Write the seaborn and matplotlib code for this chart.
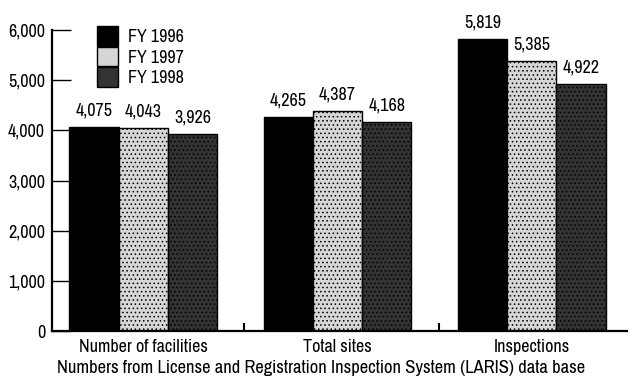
import matplotlib
matplotlib.use("Agg")
import matplotlib.pyplot as plt
from matplotlib.ticker import FixedLocator, FuncFormatter
import seaborn as sns
import pandas as pd

categories = ["Number of facilities", "Total sites", "Inspections"]
years = ["FY 1996", "FY 1997", "FY 1998"]
fy1996 = [4075, 4265, 5819]
fy1997 = [4043, 4387, 5385]
fy1998 = [3926, 4168, 4922]

colors = ["#000000", "#d6d6d6", "#333333"]

rows = []
for yr, vals in zip(years, [fy1996, fy1997, fy1998]):
    for cat, v in zip(categories, vals):
        rows.append({"category": cat, "year": yr, "value": v})
df = pd.DataFrame(rows)

sns.set_style("white")
plt.rcParams["font.family"] = ["Archivo Narrow", "DejaVu Sans"]
plt.rcParams["text.color"] = "black"
plt.rcParams["xtick.color"] = "black"
plt.rcParams["ytick.color"] = "black"
plt.rcParams["hatch.linewidth"] = 0.6

FS = 13

fig = plt.figure(figsize=(6.33, 3.90), dpi=100)
ax = fig.add_axes([52 / 633, 1 - 331 / 390, (627 - 52) / 633, (331 - 30) / 390])

sns.barplot(data=df, x="category", y="value", hue="year", order=categories,
            hue_order=years, palette=colors, width=0.76, edgecolor="black",
            linewidth=1.0, saturation=1, errorbar=None, ax=ax)

# stipple texture on the lighter and darker series
for cont, hatch, hc in zip(ax.containers, [None, "....", "...."],
                           [None, "#a8a8a8", "#6a6a6a"]):
    if hatch:
        for bar in cont:
            bar.set_hatch(hatch)
            if hasattr(bar, "set_hatch_color"):
                bar.set_hatch_color(hc)
    ax.bar_label(cont, labels=[f"{int(v.get_height()):,}" for v in cont],
                 padding=6, fontsize=FS)

ax.set_ylim(0, 6000)
ax.set_xlim(-0.47, 2.49)
ax.yaxis.set_major_locator(FixedLocator([0, 1000, 2000, 3000, 4000, 5000, 6000]))
ax.yaxis.set_major_formatter(FuncFormatter(lambda v, p: f"{int(v):,}"))
ax.tick_params(axis="y", direction="in", length=14, width=1.0, pad=5,
               labelsize=FS, left=True)
ax.tick_params(axis="x", length=0, pad=6, labelsize=FS)
ax.xaxis.set_minor_locator(FixedLocator([0.52, 1.52]))
ax.tick_params(axis="x", which="minor", direction="in", length=6, width=1.5,
               bottom=True)

for s in ["top", "right"]:
    ax.spines[s].set_visible(False)
for s in ["left", "bottom"]:
    ax.spines[s].set_linewidth(1.6)
    ax.spines[s].set_color("black")

ax.set_xlabel("")
ax.set_ylabel("")

leg = ax.legend(loc="upper left", bbox_to_anchor=(0.078, 1.013), frameon=False,
                fontsize=FS, handlelength=1.15, handleheight=1.3,
                handletextpad=0.55, labelspacing=0.05, borderaxespad=0,
                borderpad=0)

fig.text(57 / 633, 1 - 368 / 390,
         "Numbers from License and Registration Inspection System (LARIS) data base",
         fontsize=13.3, va="center", ha="left")

fig.savefig("out.png", dpi=100)
